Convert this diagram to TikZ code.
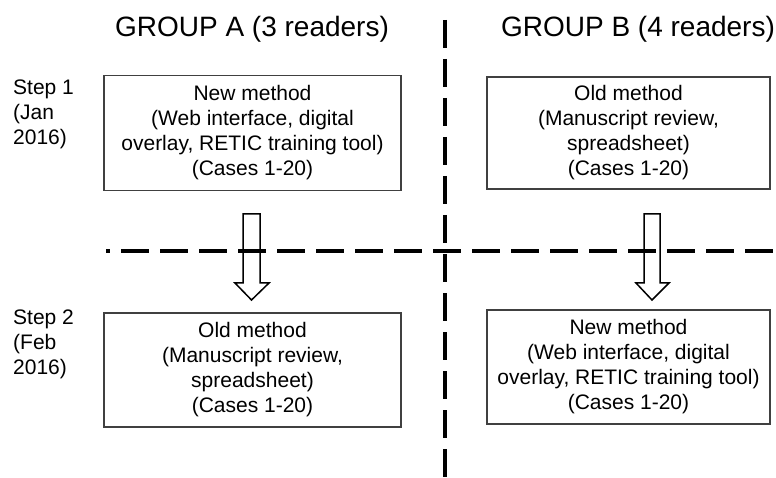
\documentclass[tikz,border=0pt]{standalone}
\usepackage{fontspec}
\setmainfont{Liberation Sans}
\begin{document}
\begin{tikzpicture}[x=1pt,y=-1pt,
  box/.style={draw=black!75, line width=1.2pt, align=center, inner sep=0pt,
    font=\fontsize{21}{25}\selectfont},
  header/.style={font=\fontsize{28}{32}\selectfont, anchor=base},
  steplbl/.style={font=\fontsize{21}{25}\selectfont, align=left, anchor=north west, inner sep=0pt},
  divider/.style={line width=3.5pt, dash pattern=on 28pt off 11pt},
  blockarrow/.style={draw=black, line width=1.5pt, line join=miter}
]
\useasboundingbox (0,0) rectangle (776,478);

% dividers
\coordinate (hA) at (106,251);
\coordinate (hB) at (776,251);
\coordinate (vA) at (445,20);
\coordinate (vB) at (445,478);
\draw[divider, dash phase=24pt] (hA) -- (hB);
\draw[divider] (vA) -- (vB);

% headers
\node[header] (ga) at (252,37) {GROUP A (3 readers)};
\node[header] (gb) at (638,37) {GROUP B (4 readers)};

% step labels
\node[steplbl] (s1) at (13,80) {Step 1\\(Jan\\2016)};
\node[steplbl] (s2) at (13,310) {Step 2\\(Feb\\2016)};

% boxes
\node[box, minimum width=297pt, minimum height=115pt] (tl) at (252.5,133)
  {New method\\(Web interface, digital\\overlay, RETIC training tool)\\(Cases 1-20)};
\node[box, minimum width=297pt, minimum height=114pt] (bl) at (252.5,370)
  {Old method\\(Manuscript review,\\spreadsheet)\\(Cases 1-20)};
\node[box, minimum width=283pt, minimum height=112pt] (tr) at (628.5,133)
  {Old method\\(Manuscript review,\\spreadsheet)\\(Cases 1-20)};
\node[box, minimum width=283pt, minimum height=114pt] (br) at (628.5,367)
  {New method\\(Web interface, digital\\overlay, RETIC training tool)\\(Cases 1-20)};

% block arrows
\draw[blockarrow] (243,214) -- (260,214) -- (260,283) -- (269,283) -- (251.5,300)
  -- (235,283) -- (243,283) -- cycle;
\draw[blockarrow] (644,214) -- (660,214) -- (660,283) -- (669,283) -- (652,300)
  -- (636,283) -- (644,283) -- cycle;
\end{tikzpicture}
\end{document}
